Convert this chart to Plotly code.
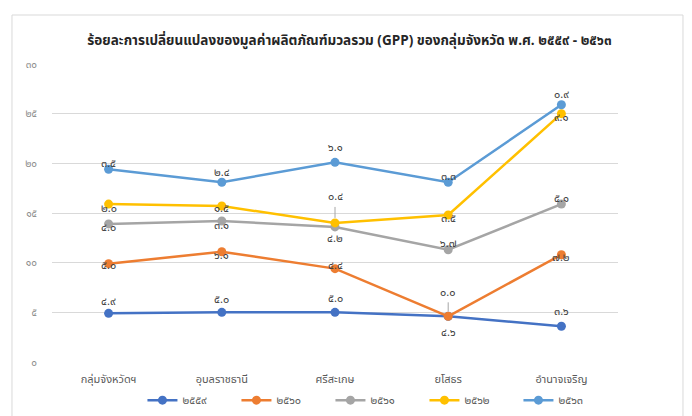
import numpy as np
import plotly.graph_objects as go

categories = ["กลุ่มจังหวัดฯ", "อุบลราชธานี", "ศรีสะเกษ", "ยโสธร", "อำนาจเจริญ"]
series_names = ["๒๕๕๙", "๒๕๖๐", "๒๕๖๑", "๒๕๖๒", "๒๕๖๓"]
v2559 = [4.9, 5.0, 5.0, 4.6, 3.6]
v2560 = [5.0, 6.1, 4.4, 0.0, 7.2]
v2561 = [4.0, 3.1, 4.2, 6.7, 5.1]
v2562 = [2.0, 1.5, 0.4, 3.5, 9.1]
v2563 = [3.5, 2.4, 6.1, 3.3, 0.9]
ytick_vals = [0, 5, 10, 15, 20, 25, 30]
ytick_text = ["๐", "๕", "๑๐", "๑๕", "๒๐", "๒๕", "๓๐"]
title_text = "ร้อยละการเปลี่ยนแปลงของมูลค่าผลิตภัณฑ์มวลรวม (GPP) ของกลุ่มจังหวัด พ.ศ. ๒๕๕๙ - ๒๕๖๓"

series_values = [v2559, v2560, v2561, v2562, v2563]
colors = ["#4472C4", "#ED7D31", "#A5A5A5", "#FFC000", "#5B9BD5"]

# label offsets (px, up positive) and leader-line flags -- style only
label_shift = [
    [12, 13, 14, -16, 15],
    [-2, -4, 3, 24, -3],
    [-4, -5, -12, 6, 6],
    [-4, -2, 26, -4, -4],
    [6, 10, 15, 6, 10],
]
leader = [
    [False] * 5,
    [False, False, False, True, False],
    [False] * 5,
    [False, False, True, False, False],
    [False] * 5,
]

THAI = str.maketrans("0123456789", "๐๑๒๓๔๕๖๗๘๙")


def thai_num(v):
    return f"{v:.1f}".translate(THAI)


FONT = "Tahoma, 'Noto Sans Thai', 'Noto Sans', sans-serif"

fig = go.Figure()
for name, vals, col in zip(series_names, series_values, colors):
    fig.add_trace(go.Scatter(
        x=categories, y=vals, name=name, mode="lines+markers",
        stackgroup="one", fill="none",
        line=dict(color=col, width=2.5),
        marker=dict(color=col, size=9),
    ))

cum = np.cumsum(np.array(series_values), axis=0)
annotations = []
for i, vals in enumerate(series_values):
    for j, v in enumerate(vals):
        if leader[i][j]:
            annotations.append(dict(
                x=categories[j], y=float(cum[i][j]), text=thai_num(v),
                showarrow=True, arrowhead=0, arrowwidth=1, arrowcolor="#A6A6A6",
                ax=0, ay=-label_shift[i][j], standoff=5,
                font=dict(size=11, color="#404040", family=FONT),
            ))
        else:
            annotations.append(dict(
                x=categories[j], y=float(cum[i][j]), text=thai_num(v),
                showarrow=False, yshift=label_shift[i][j],
                font=dict(size=11, color="#404040", family=FONT),
            ))

fig.update_layout(
    width=692, height=416,
    margin=dict(l=52, r=74, t=64, b=54, autoexpand=False),
    paper_bgcolor="white", plot_bgcolor="white",
    font=dict(family=FONT, color="#595959"),
    title=dict(text="<b>" + title_text + "</b>", x=0.505, xanchor="center",
               y=0.903, yanchor="middle", yref="container",
               font=dict(size=13.5, color="#262626", family=FONT)),
    showlegend=True,
    legend=dict(orientation="h", x=0.575, xanchor="center", y=-0.128, yanchor="middle",
                bgcolor="rgba(0,0,0,0)",
                font=dict(size=11, color="#595959", family=FONT),
                itemwidth=30, entrywidth=49, entrywidthmode="pixels",
                traceorder="normal"),
    annotations=annotations,
    shapes=[dict(type="rect", xref="paper", yref="paper",
                 x0=-0.0707, x1=1.1148, y0=-0.25, y1=1.1644,
                 line=dict(color="#D9D9D9", width=1), layer="below")],
)
fig.update_xaxes(showgrid=False, showline=False, ticks="", range=[-0.5, 4.5],
                 automargin=False,
                 tickfont=dict(size=11, color="#595959", family=FONT),
                 ticklabelstandoff=9)
fig.update_yaxes(range=[0, 30], tickvals=ytick_vals, ticktext=ytick_text,
                 showgrid=True, gridcolor="#D9D9D9", gridwidth=1,
                 zeroline=False, showline=False, automargin=False,
                 tickfont=dict(size=10, color="#8C8C8C", family=FONT),
                 ticklabelstandoff=14)

fig.write_html("out.html", config={"displayModeBar": False},
               post_script="document.body.style.margin='0';")
